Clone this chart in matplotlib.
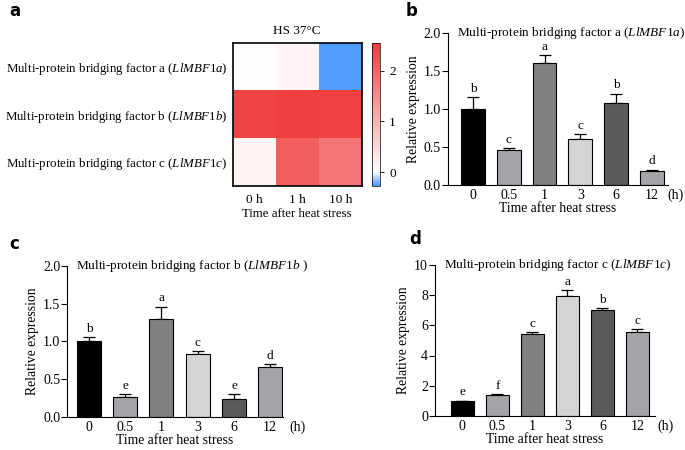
import numpy as np
import matplotlib
matplotlib.use('Agg')
import matplotlib.pyplot as plt
from matplotlib.colors import LinearSegmentedColormap, Normalize

plt.rcParams['font.family'] = 'Liberation Serif'
plt.rcParams['mathtext.fontset'] = 'custom'
plt.rcParams['mathtext.rm'] = 'Liberation Serif'
plt.rcParams['mathtext.it'] = 'Liberation Serif:italic'
plt.rcParams['font.size'] = 9

# heatmap data
genes = ['Multi-protein bridging factor a ($\\it{LlMBF1a}$)',
         'Multi-protein bridging factor b ($\\it{LlMBF1b}$)',
         'Multi-protein bridging factor c ($\\it{LlMBF1c}$)']
hs_times = ['0 h', '1 h', '10 h']
heat = np.array([[0.0, 0.12, -0.25],
                 [2.45, 2.5, 2.48],
                 [0.15, 2.1, 1.8]])

# bar data
times = ['0', '0.5', '1', '3', '6', '12']
bar_colors = ['#000000', '#a3a3a8', '#808080', '#d4d4d4', '#5a5a5a', '#a3a3a8']

expr_a = [1.0, 0.46, 1.61, 0.61, 1.08, 0.18]
err_a = [0.15, 0.02, 0.10, 0.06, 0.12, 0.02]
let_a = ['b', 'c', 'a', 'c', 'b', 'd']

expr_b = [1.0, 0.26, 1.30, 0.83, 0.23, 0.66]
err_b = [0.06, 0.04, 0.16, 0.04, 0.07, 0.04]
let_b = ['b', 'e', 'a', 'c', 'e', 'd']

expr_c = [0.97, 1.38, 5.43, 7.95, 7.03, 5.53]
err_c = [0.03, 0.04, 0.12, 0.40, 0.10, 0.20]
let_c = ['e', 'f', 'c', 'a', 'b', 'c']

fig = plt.figure(figsize=(6.85, 4.5), dpi=100)

# ---- panel a: heatmap
vmin, vmax = -0.27, 2.55
wpos = (0 - vmin) / (vmax - vmin)
cmap = LinearSegmentedColormap.from_list(
    'bwr2', [(0, '#4a98ff'), (wpos, '#ffffff'), (1, '#f03c3c')])
axh = fig.add_axes([0.340, 0.587, 0.188, 0.318])
im = axh.imshow(heat, cmap=cmap, norm=Normalize(vmin, vmax), aspect='auto')
axh.set_xticks(range(3))
axh.set_xticklabels(hs_times, fontsize=9.5)
axh.set_yticks(range(3))
axh.set_yticklabels(genes, fontsize=9.3)
axh.tick_params(length=0, pad=4)
axh.tick_params(axis='x', pad=6)
axh.set_xlabel('Time after heat stress', labelpad=1, fontsize=9.3)
axh.set_title('HS 37°C', fontsize=9.5, pad=6)
for s in axh.spines.values():
    s.set_linewidth(1.2)
cax = fig.add_axes([0.543, 0.587, 0.012, 0.318])
cb = fig.colorbar(im, cax=cax, ticks=[0, 1, 2])
cb.outline.set_linewidth(0.5)
cax.tick_params(length=3, width=0.6, labelsize=9.5)


def bar_panel(pos, vals, errs, letters, title, ymax, yticks, ylabels, xlim, hx):
    ax = fig.add_axes(pos)
    x = np.arange(len(times))
    ax.bar(x, vals, width=0.66, color=bar_colors, edgecolor='black', linewidth=0.8, zorder=2)
    ax.errorbar(x, vals, yerr=[np.zeros(len(errs)), errs], fmt='none', ecolor='black',
                elinewidth=0.9, capsize=4, capthick=0.9, zorder=1)
    off = ymax * 0.015
    for i in range(len(x)):
        ax.text(x[i], vals[i] + errs[i] + off, letters[i], ha='center', va='bottom', fontsize=9.5)
    ax.set_ylim(0, ymax)
    ax.set_xlim(xlim)
    ax.set_yticks(yticks)
    ax.set_yticklabels(ylabels, fontsize=10)
    ax.set_xticks(x)
    ax.set_xticklabels(times, fontsize=10)
    ax.tick_params(axis='x', length=0, pad=3)
    ax.tick_params(axis='y', length=4, width=0.8, pad=1)
    ax.spines['top'].set_visible(False)
    ax.spines['right'].set_visible(False)
    ax.spines['left'].set_linewidth(0.8)
    ax.spines['bottom'].set_linewidth(0.8)
    ax.set_ylabel('Relative expression', fontsize=9.8, labelpad=3)
    ax.set_xlabel('Time after heat stress', fontsize=9.8, labelpad=0)
    ax.text(hx, -0.022 * ymax, '(h)', ha='center', va='top', fontsize=10,
            transform=ax.transData, clip_on=False)
    ax.text(0.04, 1.0, title, transform=ax.transAxes, ha='left', va='center', fontsize=9.5)
    return ax


bar_panel([0.654, 0.589, 0.321, 0.338], expr_a, err_a, let_a,
          'Multi-protein bridging factor a ($\\it{LlMBF1a}$)', 2.0,
          [0, 0.5, 1.0, 1.5, 2.0], ['0.0', '0.5', '1.0', '1.5', '2.0'], (-0.7, 5.45), 5.65)
bar_panel([0.098, 0.074, 0.315, 0.335], expr_b, err_b, let_b,
          'Multi-protein bridging factor b ($\\it{LlMBF1b}$ )', 2.0,
          [0, 0.5, 1.0, 1.5, 2.0], ['0.0', '0.5', '1.0', '1.5', '2.0'], (-0.6, 5.35), 5.75)
bar_panel([0.635, 0.076, 0.321, 0.335], expr_c, err_c, let_c,
          'Multi-protein bridging factor c ($\\it{LlMBF1c}$)', 10,
          [0, 2, 4, 6, 8, 10], ['0', '2', '4', '6', '8', '10'], (-0.78, 5.5), 5.8)

# panel letters
fig.text(0.014, 0.975, 'a', fontsize=12, fontweight='bold', family='DejaVu Sans', va='center')
fig.text(0.592, 0.975, 'b', fontsize=12, fontweight='bold', family='DejaVu Sans', va='center')
fig.text(0.014, 0.458, 'c', fontsize=12, fontweight='bold', family='DejaVu Sans', va='center')
fig.text(0.598, 0.468, 'd', fontsize=12, fontweight='bold', family='DejaVu Sans', va='center')

fig.savefig('out.png', dpi=100)
